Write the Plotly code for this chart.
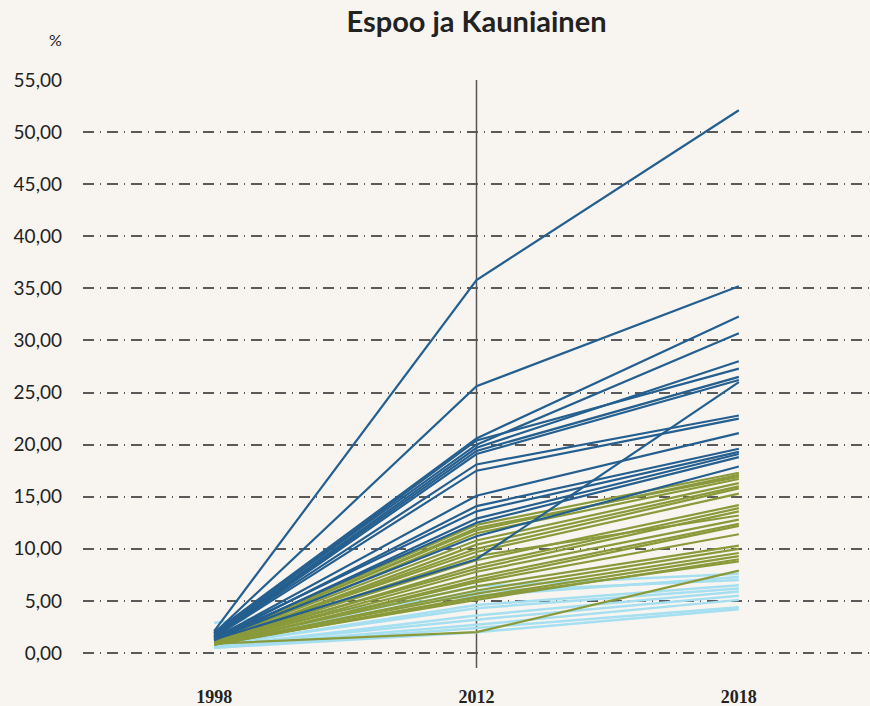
import plotly.graph_objects as go

years = ["1998", "2012", "2018"]

# dark blue group (values at 1998, 2012, 2018)
dark_1998 = [2.1, 1.9, 2.0, 1.8, 1.9, 1.7, 1.6, 1.5, 1.3, 1.6, 1.5, 1.4, 1.3, 1.5, 1.2, 1.4, 1.3]
dark_2012 = [35.8, 25.6, 20.6, 20.4, 20.0, 19.7, 19.4, 19.1, 9.0, 18.1, 17.5, 15.1, 14.1, 13.6, 12.9, 12.5, 11.2]
dark_2018 = [52.1, 35.2, 32.3, 27.3, 30.7, 28.0, 26.5, 26.2, 26.0, 22.8, 22.5, 21.1, 19.6, 19.3, 19.1, 18.8, 17.9]

# olive group
olive_1998 = [1.3, 1.2, 1.3, 1.1, 1.2, 1.0, 1.1, 1.2, 1.0, 0.9, 1.1, 1.0, 0.9, 1.0, 0.8, 0.9, 1.0, 0.8, 0.9, 0.8, 0.9, 0.8, 0.9]
olive_2012 = [12.3, 12.0, 11.8, 11.5, 10.8, 10.4, 10.0, 9.7, 8.9, 8.4, 8.1, 9.3, 7.8, 7.3, 7.0, 6.8, 6.4, 6.0, 5.7, 5.4, 5.1, 5.3, 2.0]
olive_2018 = [17.3, 16.9, 17.1, 16.7, 16.3, 16.0, 15.8, 15.3, 14.2, 13.9, 13.6, 13.2, 12.8, 12.4, 12.2, 11.4, 10.3, 10.0, 9.6, 9.3, 9.0, 8.8, 7.9]

# light blue group
light_1998 = [0.9, 2.9, 0.8, 0.7, 0.8, 0.6, 0.7, 0.6, 0.5, 0.5]
light_2012 = [6.4, 5.5, 5.9, 4.6, 4.3, 3.6, 3.2, 2.7, 2.4, 2.0]
light_2018 = [7.6, 7.3, 7.0, 6.5, 6.2, 5.9, 5.5, 5.1, 4.4, 4.2]

y_tick_vals = [0, 5, 10, 15, 20, 25, 30, 35, 40, 45, 50, 55]
y_tick_text = ["0,00", "5,00", "10,00", "15,00", "20,00", "25,00", "30,00",
               "35,00", "40,00", "45,00", "50,00", "55,00"]

DARK = "#245f8f"
OLIVE = "#8a9a3b"
LIGHT = "#a6dff0"
BG = "#f8f5f0"

fig = go.Figure()


def add_group(a, b, c, color, width):
    for v0, v1, v2 in zip(a, b, c):
        fig.add_trace(go.Scatter(
            x=years, y=[v0, v1, v2], mode="lines",
            line=dict(color=color, width=width),
            hoverinfo="skip", showlegend=False))


add_group(light_1998, light_2012, light_2018, LIGHT, 2.5)
add_group(olive_1998, olive_2012, olive_2018, OLIVE, 2.2)
add_group(dark_1998, dark_2012, dark_2018, DARK, 2.2)

fig.add_shape(type="line", xref="x", yref="paper", x0=1, x1=1, y0=0, y1=1,
              line=dict(color="#555555", width=1.5), layer="below")

fig.update_layout(
    width=870, height=706,
    paper_bgcolor=BG, plot_bgcolor=BG,
    margin=dict(l=83, r=0, t=80, b=38),
    title=dict(text="<b>Espoo ja Kauniainen</b>", x=0.5, xref="paper",
               y=1 - 22 / 706, yref="container", xanchor="center", yanchor="middle",
               font=dict(family="Lato", size=29, color="#222222")),
    xaxis=dict(type="category", range=[-0.5, 2.5], showgrid=False, zeroline=False,
               showline=False, ticks="outside", ticklen=12, tickcolor=BG,
               tickfont=dict(family="Liberation Serif", size=18, color="#222222", weight="bold")),
    yaxis=dict(range=[-1.44, 55], tickvals=y_tick_vals, ticktext=y_tick_text,
               showgrid=True, gridcolor="#5a5a5a", gridwidth=1.6,
               griddash="11px,6px,1px,6px", zeroline=False, showline=False,
               ticklabelstandoff=20,
               tickfont=dict(family="Lato", size=19, color="#222222")),
    annotations=[dict(text="%", xref="paper", yref="paper", x=(55 - 83) / 787,
                      y=(668 - 40) / 588, showarrow=False, xanchor="center",
                      yanchor="middle", font=dict(family="Lato", size=16, color="#222222"))],
)

fig.write_html("out.html", config={"displayModeBar": False},
               post_script="document.body.style.margin='0';document.body.style.overflow='hidden';")
